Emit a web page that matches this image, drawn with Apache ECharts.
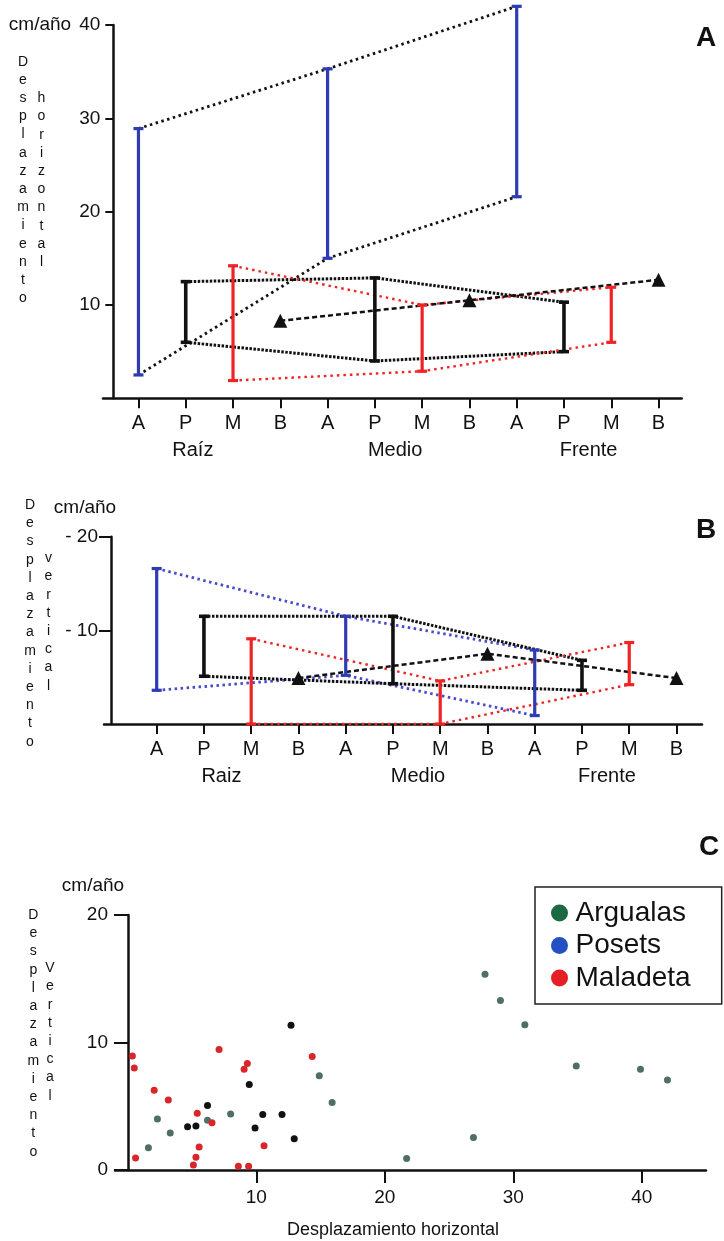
<!DOCTYPE html>
<html>
<head>
<meta charset="utf-8">
<script src="https://cdn.jsdelivr.net/npm/echarts@6/dist/echarts.min.js"></script>
<style>
  html, body { margin: 0; padding: 0; background: #fff; }
  #chart { width: 724px; height: 1241px; }
</style>
</head>
<body>
<div id="chart"></div>
<script>
// categories along the glacier (A, P, M, B repeated for each zone)
const cats = ['A', 'P', 'M', 'B', 'A', 'P', 'M', 'B', 'A', 'P', 'M', 'B']
const zonesA = ['Raíz', 'Medio', 'Frente']
const zonesB = ['Raiz', 'Medio', 'Frente']
const yTicksA = [10, 20, 30, 40]
const yTicksB = [-20, -10]
const xTicksC = [10, 20, 30, 40]
const yTicksC = [0, 10, 20]

// A: horizontal displacement (cm/año), [low, high] for Raíz, Medio, Frente
const horizA = [[2.5, 28.9], [15.0, 35.3], [21.6, 42.0]]
const horizP = [[6.0, 12.5], [4.0, 12.9], [5.0, 10.3]]
const horizM = [[1.9, 14.2], [2.9, 10.0], [6.0, 11.9]]
const horizB = [8.3, 10.5, 12.7]

// B: vertical displacement (cm/año), [low, high] for Raiz, Medio, Frente
const vertA = [[-3.6, -16.6], [-5.2, -11.5], [-0.9, -7.9]]
const vertP = [[-5.1, -11.5], [-4.3, -11.5], [-3.6, -6.8]]
const vertM = [[0, -9.1], [0, -4.6], [-4.2, -8.7]]
const vertB = [-4.9, -7.5, -4.9]

// C: [horizontal, vertical] displacement per point
const argualas = [
  [14.9, 7.4], [15.9, 5.3], [8.0, 4.4], [2.3, 4.0], [6.2, 3.9], [3.3, 2.9], [1.6, 1.75],
  [27.8, 15.35], [29.0, 13.3], [30.9, 11.4], [34.9, 8.15], [39.9, 7.9], [42.0, 7.05],
  [26.9, 2.55], [21.7, 0.9]
]
const posets = [
  [12.7, 11.35], [9.45, 6.7], [6.2, 5.05], [10.5, 4.35], [12.0, 4.35], [4.65, 3.4],
  [5.3, 3.45], [9.9, 3.3], [12.95, 2.45]
]
const maladeta = [
  [0.35, 8.95], [0.5, 8.0], [7.1, 9.45], [9.3, 8.35], [9.05, 7.9], [14.35, 8.9],
  [2.05, 6.25], [3.15, 5.5], [5.4, 4.45], [6.55, 3.7], [10.6, 1.9], [5.55, 1.8],
  [5.3, 1.0], [0.6, 0.95], [5.1, 0.4], [8.6, 0.3], [9.4, 0.3]
]

const FONT = '"Liberation Sans", Arial, sans-serif'
const INK = '#111'
const BLUE = '#2f3bb0'
const RED = '#ee2424'

// position of each zone label along the category axis
const zonePosA = [1.15, 5.43, 9.52]
const zonePosB = [1.37, 5.53, 9.53]
const catIdx = cats.map((c, i) => i)

const chart = echarts.init(document.getElementById('chart'))

function pick(pos, names) {
  return v => {
    const i = pos.findIndex(p => Math.abs(p - v) < 1e-6)
    return i < 0 ? '' : names[i]
  }
}

function catX(gi, min, max) {
  return {
    type: 'value', gridIndex: gi, min: min, max: max, position: 'bottom',
    axisLine: { onZero: false, lineStyle: { color: INK, width: 2.5 } },
    axisTick: { customValues: catIdx, length: 10, lineStyle: { color: INK, width: 2 } },
    axisLabel: { customValues: catIdx, formatter: v => cats[Math.round(v)] || '', margin: 15, fontSize: 20, color: INK, fontFamily: FONT },
    splitLine: { show: false }
  }
}

function zoneX(gi, min, max, pos, names) {
  return {
    type: 'value', gridIndex: gi, min: min, max: max, position: 'bottom',
    axisLine: { show: false, onZero: false }, axisTick: { show: false },
    axisLabel: { customValues: pos, formatter: pick(pos, names), margin: 42, fontSize: 20, color: INK, fontFamily: FONT },
    splitLine: { show: false }
  }
}

function bars(name, rows, off, color, width, xi, yi) {
  return {
    type: 'custom', name: name, xAxisIndex: xi, yAxisIndex: yi, clip: false, z: 5, silent: true,
    data: rows.map((r, z) => [z * 4 + off, r[0], r[1]]),
    encode: { x: 0, y: [1, 2] },
    renderItem(params, api) {
      const x = api.value(0)
      const lo = api.coord([x, api.value(1)])
      const hi = api.coord([x, api.value(2)])
      const cap = 5
      const style = { stroke: color, lineWidth: width }
      return {
        type: 'group',
        children: [
          { type: 'line', shape: { x1: lo[0], y1: lo[1], x2: hi[0], y2: hi[1] }, style: style },
          { type: 'line', shape: { x1: lo[0] - cap, y1: lo[1], x2: lo[0] + cap, y2: lo[1] }, style: style },
          { type: 'line', shape: { x1: hi[0] - cap, y1: hi[1], x2: hi[0] + cap, y2: hi[1] }, style: style }
        ]
      }
    }
  }
}

function link(pts, color, width, dash, xi, yi) {
  return {
    type: 'line', xAxisIndex: xi, yAxisIndex: yi, data: pts, symbol: 'none', clip: false,
    silent: true, z: 3, lineStyle: { color: color, width: width, type: dash, opacity: 1 }
  }
}

function edges(rows, off, color, width, dash, xi, yi) {
  return [0, 1].map(k => link(rows.map((r, z) => [z * 4 + off, r[k]]), color, width, dash, xi, yi))
}

function marks(vals, xi, yi) {
  return {
    type: 'scatter', xAxisIndex: xi, yAxisIndex: yi, symbol: 'triangle', symbolSize: 14, z: 6,
    silent: true, itemStyle: { color: INK, opacity: 1 }, data: vals.map((v, z) => [z * 4 + 3, v])
  }
}

function panel(a, p, m, b, blueLine, xi, yi) {
  return [].concat(
    edges(a, 0, blueLine, 2.8, [2.5, 3.5], xi, yi),
    edges(p, 1, INK, 3, [2.5, 1.5], xi, yi),
    edges(m, 2, RED, 2.4, [2.5, 4], xi, yi),
    [link(b.map((v, z) => [z * 4 + 3, v]), INK, 2.5, [5, 3], xi, yi)],
    [bars('A', a, 0, BLUE, 3.2, xi, yi), bars('P', p, 1, INK, 3.6, xi, yi), bars('M', m, 2, RED, 3.2, xi, yi)],
    [marks(b, xi, yi)]
  )
}

function txt(text, x, y, font) {
  return {
    type: 'text', x: x, y: y, silent: true,
    style: { text: text, fill: INK, font: font, textAlign: 'center', textVerticalAlign: 'middle', align: 'center', verticalAlign: 'middle' }
  }
}

function stack(word, x, top) {
  return {
    type: 'text', x: x, y: top, silent: true,
    style: { text: word.split('').join('\n'), fill: INK, font: '14px ' + FONT, lineHeight: 18.2,
      textAlign: 'center', textVerticalAlign: 'top', align: 'center', verticalAlign: 'top' }
  }
}

const yLabel = { fontSize: 19, color: INK, fontFamily: FONT }

chart.setOption({
  animation: false,
  backgroundColor: '#fff',
  grid: [
    { left: 103, top: 25, width: 578.7, height: 373.3 },
    { left: 104, top: 536.7, width: 598, height: 187.3 },
    { left: 115, top: 915, width: 591, height: 255 }
  ],
  xAxis: [
    catX(0, -0.75, 11.49),
    zoneX(0, -0.75, 11.49, zonePosA, zonesA),
    catX(1, -1.115, 11.54),
    zoneX(1, -1.115, 11.54, zonePosB, zonesB),
    {
      type: 'value', gridIndex: 2, min: -1, max: 45, position: 'bottom',
      axisLine: { onZero: false, lineStyle: { color: INK, width: 2.5 } },
      axisTick: { customValues: xTicksC, length: 13, lineStyle: { color: INK, width: 2 } },
      axisLabel: { customValues: xTicksC, margin: 18, fontSize: 19, color: INK, fontFamily: FONT },
      splitLine: { show: false }
    }
  ],
  yAxis: [
    {
      type: 'value', gridIndex: 0, min: 0, max: 40, offset: -10.3,
      axisLine: { show: true, onZero: false, lineStyle: { color: INK, width: 2.5 } },
      axisTick: { show: true, customValues: yTicksA, length: 8, lineStyle: { color: INK, width: 2 } },
      axisLabel: Object.assign({ customValues: yTicksA, margin: 13 }, yLabel),
      splitLine: { show: false }
    },
    {
      type: 'value', gridIndex: 1, min: -20, max: 0, inverse: true, offset: -7,
      axisLine: { show: true, onZero: false, lineStyle: { color: INK, width: 2.5 } },
      axisTick: { show: true, customValues: yTicksB, length: 12, lineStyle: { color: INK, width: 2 } },
      axisLabel: Object.assign({ customValues: yTicksB, margin: 13, formatter: v => '- ' + Math.abs(v) }, yLabel),
      splitLine: { show: false }
    },
    {
      type: 'value', gridIndex: 2, min: 0, max: 20, offset: -13,
      axisLine: { show: true, onZero: false, lineStyle: { color: INK, width: 2.5 } },
      axisTick: { show: true, customValues: yTicksC, length: 14, lineStyle: { color: INK, width: 2 } },
      axisLabel: Object.assign({ customValues: yTicksC, margin: 20 }, yLabel),
      splitLine: { show: false }
    }
  ],
  legend: {
    data: [
      { name: 'Argualas', itemStyle: { color: '#1b6a42', opacity: 1 } },
      { name: 'Posets', itemStyle: { color: '#2550c4', opacity: 1 } },
      { name: 'Maladeta', itemStyle: { color: '#e61e26', opacity: 1 } }
    ],
    orient: 'vertical', left: 535, top: 887, icon: 'circle',
    itemWidth: 22, itemHeight: 17, itemGap: 4.5,
    padding: [12, 31, 12, 16],
    borderColor: '#222', borderWidth: 1.5,
    textStyle: { fontSize: 28, color: INK, fontFamily: FONT }
  },
  graphic: [
    txt('cm/año', 40, 25, '19px ' + FONT),
    txt('cm/año', 85, 508, '19px ' + FONT),
    txt('cm/año', 93, 886, '19px ' + FONT),
    txt('A', 706, 38, 'bold 28px ' + FONT),
    txt('B', 706, 530, 'bold 28px ' + FONT),
    txt('C', 709, 847, 'bold 28px ' + FONT),
    stack('Desplazamiento', 23, 52.6),
    stack('horizontal', 41.5, 89.2),
    stack('Desplazamiento', 30, 496),
    stack('vertical', 48.5, 549.2),
    stack('Desplazamiento', 33.3, 906),
    stack('Vertical', 50, 959.2),
    txt('Desplazamiento horizontal', 393, 1230, '18px ' + FONT)
  ],
  series: [].concat(
    panel(horizA, horizP, horizM, horizB, INK, 0, 0),
    panel(vertA, vertP, vertM, vertB, '#4a4ad0', 2, 1),
    [
      { name: 'Argualas', type: 'scatter', xAxisIndex: 4, yAxisIndex: 2, symbolSize: 7, data: argualas, itemStyle: { color: '#4f6e66', opacity: 1 } },
      { name: 'Posets', type: 'scatter', xAxisIndex: 4, yAxisIndex: 2, symbolSize: 7, data: posets, itemStyle: { color: INK, opacity: 1 } },
      { name: 'Maladeta', type: 'scatter', xAxisIndex: 4, yAxisIndex: 2, symbolSize: 7, data: maladeta, itemStyle: { color: '#d8262b', opacity: 1 } }
    ]
  )
})
</script>
</body>
</html>
